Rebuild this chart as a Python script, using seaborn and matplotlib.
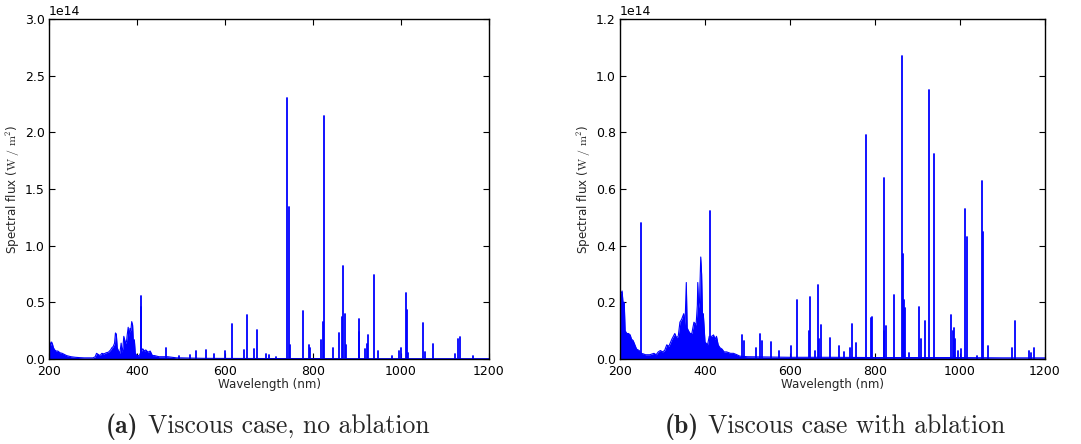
import numpy as np
import pandas as pd
import matplotlib
matplotlib.use("Agg")
import matplotlib.pyplot as plt
import seaborn as sns

# ---------------- data (flux in units of 1e14 W/m^2) ----------------
# (a) viscous case, no ablation: dense molecular band envelope
band_wl_a = [200, 202, 204, 206, 208, 210, 213, 216, 220, 225, 230, 235, 240, 245,
             250, 260, 270, 280, 290, 300, 305, 308, 312, 316, 320, 325, 330, 335,
             340, 343, 346, 349, 351, 353, 355, 358, 361, 364, 366, 368, 370, 372,
             374, 376, 378, 380, 382, 384, 386, 388, 390, 392, 394, 396, 400, 405,
             413, 417, 420, 425, 430, 435, 440, 450, 460, 470, 480, 490, 500, 550,
             600, 700, 800, 900, 1000, 1100, 1200]
band_fx_a = [0.13, 0.15, 0.12, 0.15, 0.13, 0.10, 0.08, 0.07, 0.07, 0.055, 0.05, 0.04,
             0.03, 0.025, 0.02, 0.015, 0.012, 0.01, 0.01, 0.01, 0.02, 0.05, 0.04, 0.03,
             0.05, 0.045, 0.055, 0.06, 0.08, 0.10, 0.11, 0.14, 0.23, 0.22, 0.10, 0.07,
             0.05, 0.14, 0.06, 0.10, 0.20, 0.17, 0.14, 0.15, 0.22, 0.28, 0.20, 0.27,
             0.25, 0.33, 0.30, 0.12, 0.17, 0.05, 0.03, 0.03, 0.09, 0.07, 0.08, 0.06,
             0.07, 0.03, 0.03, 0.02, 0.02, 0.02, 0.015, 0.01, 0.01, 0.006, 0.005,
             0.004, 0.004, 0.003, 0.003, 0.003, 0.003]

# (a) atomic lines
line_wl_a = [408, 410, 467, 495, 521, 533, 556, 575, 601, 616, 643, 649, 666, 672,
             694, 700, 717, 742, 745, 747, 778, 790, 793, 818, 822, 824, 845, 860,
             866, 869, 872, 876, 904, 905, 919, 923, 926, 939, 947, 980, 995, 1001,
             1011, 1013, 1017, 1050, 1054, 1073, 1123, 1130, 1133, 1163]
line_fx_a = [0.46, 0.56, 0.10, 0.03, 0.035, 0.07, 0.08, 0.04, 0.075, 0.305, 0.08,
             0.39, 0.09, 0.26, 0.04, 0.035, 0.02, 2.30, 1.34, 0.12, 0.42, 0.12, 0.10,
             0.17, 0.33, 2.14, 0.10, 0.23, 0.37, 0.82, 0.40, 0.12, 0.24, 0.35, 0.09,
             0.13, 0.21, 0.74, 0.07, 0.03, 0.07, 0.10, 0.58, 0.43, 0.05, 0.32, 0.06,
             0.13, 0.04, 0.18, 0.19, 0.03]

# (b) viscous case with ablation: dense band envelope
band_wl_b = [200, 202, 205, 207, 210, 212, 216, 220, 224, 227, 231, 235, 239, 245,
             250, 255, 260, 270, 280, 285, 290, 295, 300, 305, 310, 315, 322, 329,
             333, 337, 341, 345, 350, 353, 356, 358, 361, 365, 369, 374, 379, 382,
             383, 385, 387, 390, 392, 394, 396, 400, 406, 410, 416, 420, 424, 427,
             431, 435, 440, 445, 451, 460, 467, 475, 482, 500, 600, 700, 800, 900,
             1000, 1100, 1200]
band_fx_b = [0.24, 0.23, 0.24, 0.20, 0.20, 0.10, 0.09, 0.09, 0.085, 0.07, 0.065,
             0.05, 0.035, 0.03, 0.02, 0.018, 0.015, 0.015, 0.02, 0.015, 0.025, 0.03,
             0.025, 0.03, 0.05, 0.045, 0.07, 0.09, 0.075, 0.08, 0.13, 0.14, 0.16,
             0.12, 0.27, 0.11, 0.10, 0.09, 0.09, 0.13, 0.12, 0.19, 0.27, 0.18, 0.20,
             0.36, 0.30, 0.16, 0.16, 0.06, 0.05, 0.08, 0.08, 0.085, 0.07, 0.08, 0.05,
             0.04, 0.035, 0.025, 0.025, 0.02, 0.02, 0.015, 0.01, 0.008, 0.006, 0.006,
             0.005, 0.005, 0.005, 0.004, 0.004]

# (b) atomic lines
line_wl_b = [249, 412, 487, 492, 521, 529, 534, 556, 575, 602, 616, 645, 648, 658,
             665, 669, 673, 695, 716, 726, 740, 747, 756, 778, 791, 793, 820, 822,
             825, 845, 864, 866, 869, 871, 880, 904, 908, 918, 926, 938, 979, 983,
             986, 989, 995, 1002, 1011, 1016, 1040, 1051, 1053, 1066, 1122, 1130,
             1163, 1166, 1175]
line_fx_b = [0.48, 0.524, 0.085, 0.063, 0.04, 0.088, 0.063, 0.06, 0.03, 0.045, 0.21,
             0.10, 0.22, 0.03, 0.26, 0.07, 0.12, 0.075, 0.045, 0.025, 0.04, 0.125,
             0.055, 0.79, 0.145, 0.15, 0.64, 0.10, 0.115, 0.225, 1.07, 0.37, 0.21,
             0.18, 0.02, 0.185, 0.07, 0.135, 0.95, 0.725, 0.155, 0.10, 0.11, 0.07,
             0.03, 0.035, 0.53, 0.43, 0.01, 0.63, 0.45, 0.045, 0.04, 0.135, 0.03,
             0.02, 0.04]

scale = 1e14
x_ticks = [200, 400, 600, 800, 1000, 1200]
captions = [("(a)", "Viscous case, no ablation"),
            ("(b)", "Viscous case with ablation")]
y_limits = [3.0e14, 1.2e14]
y_steps = [0.5e14, 0.2e14]

# ---------------- styling ----------------
sns.set_theme(style="ticks")
plt.rcParams.update({
    "font.family": ["DejaVu Sans"],
    "mathtext.fontset": "cm",
    "font.size": 9,
    "xtick.direction": "in",
    "ytick.direction": "in",
    "xtick.top": True,
    "ytick.right": True,
    "xtick.major.size": 4,
    "ytick.major.size": 4,
    "xtick.major.width": 0.8,
    "ytick.major.width": 0.8,
    "axes.linewidth": 1.0,
    "axes.edgecolor": "black",
    "xtick.color": "black",
    "ytick.color": "black",
    "xtick.labelsize": 9,
    "ytick.labelsize": 9,
})

W, H = 1081, 444
fig = plt.figure(figsize=(W / 100, H / 100), dpi=100)
ax_a = fig.add_axes([49 / W, 85 / H, 440 / W, 340 / H])
ax_b = fig.add_axes([620 / W, 85 / H, 425 / W, 340 / H])


def line_trace(wl, fx):
    """Emission lines as vertical strokes rising from zero."""
    xs, ys, ids = [], [], []
    for i, (w, f) in enumerate(zip(wl, fx)):
        xs += [w, w]
        ys += [0.0, f * scale]
        ids += [i, i]
    return pd.DataFrame({"wavelength": xs, "flux": ys, "line": ids})


def draw_spectrum(ax, band_wl, band_fx, line_wl, line_fx, ymax, ystep):
    band = pd.DataFrame({"wavelength": band_wl,
                         "flux": np.asarray(band_fx) * scale})
    ax.fill_between(band["wavelength"], 0, band["flux"], color="blue",
                    linewidth=0)
    sns.lineplot(data=band, x="wavelength", y="flux", ax=ax, color="blue",
                 linewidth=0.8, estimator=None, sort=False)
    lines = line_trace(line_wl, line_fx)
    sns.lineplot(data=lines, x="wavelength", y="flux", units="line",
                 estimator=None, sort=False, ax=ax, color="blue",
                 linewidth=1.3, legend=False)
    ax.set_xlim(200, 1200)
    ax.set_ylim(0, ymax)
    ax.set_xticks(x_ticks)
    ax.set_yticks(np.arange(0, ymax + ystep / 2, ystep))
    ax.ticklabel_format(axis="y", style="sci", scilimits=(0, 0),
                        useMathText=False)
    ax.yaxis.get_offset_text().set_fontsize(9)
    ax.set_xlabel("Wavelength (nm)", fontsize=8.6, labelpad=0)
    ax.set_ylabel(r"Spectral flux ($\mathrm{W\ /\ m^2}$)", fontsize=8.6,
                  labelpad=1)
    ax.tick_params(axis="x", which="major", pad=4)
    ax.tick_params(axis="y", which="major", pad=3)
    for s in ax.spines.values():
        s.set_visible(True)


draw_spectrum(ax_a, band_wl_a, band_fx_a, line_wl_a, line_fx_a,
              y_limits[0], y_steps[0])
draw_spectrum(ax_b, band_wl_b, band_fx_b, line_wl_b, line_fx_b,
              y_limits[1], y_steps[1])

# ---------------- sub-figure captions ----------------
fig.canvas.draw()
renderer = fig.canvas.get_renderer()
cap_x = [106, 665]
for (tag, text), x0 in zip(captions, cap_x):
    t1 = fig.text(x0 / W, 1 - 433 / H, tag, family="cmb10", fontsize=18.5,
                  ha="left", va="baseline")
    bb = t1.get_window_extent(renderer)
    fig.text((bb.x1 + 9) / W, 1 - 433 / H, text, family="cmr10",
             fontsize=18.5, ha="left", va="baseline")

fig.savefig("out.png", dpi=100)
